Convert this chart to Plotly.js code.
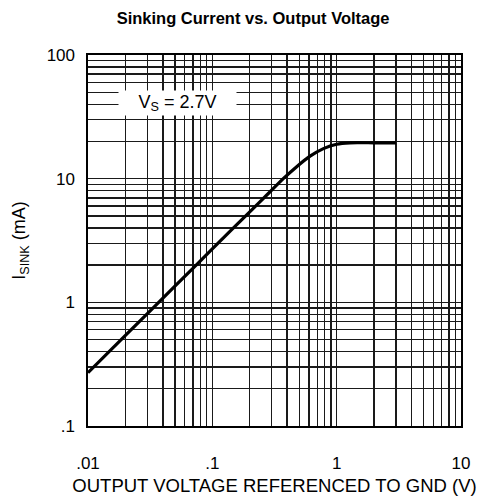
<!DOCTYPE html>
<html>
<head>
<meta charset="utf-8">
<script src="https://cdn.plot.ly/plotly-3.0.1.min.js"></script>
<style>html,body{margin:0;padding:0;background:#fff;}</style>
</head>
<body>
<div id="chart" style="width:484px;height:499px;"></div>
<script>
// Sinking current (mA) vs output voltage (V), Vs = 2.7V
const voltage = [0.01, 0.02, 0.05, 0.1, 0.2, 0.29, 0.372, 0.477, 0.611, 0.782, 1.0, 1.28, 2.0, 3.0];
const current = [0.27, 0.54, 1.35, 2.7, 5.4, 7.8, 10.0, 12.5, 15.2, 17.5, 19.0, 19.5, 19.5, 19.5];

const xDecades = [0.01, 0.1, 1, 10];
const xDecadeLabels = ['.01', '.1', '1', '10'];
const yDecades = [0.1, 1, 10, 100];
const yDecadeLabels = ['.1', '1', '10', '100'];

// Build full log grid (1..9 per decade); only decades carry labels
function logTicks(decades, labels) {
  const vals = [], text = [];
  decades.forEach((d, i) => {
    vals.push(d); text.push(labels[i]);
    if (i < decades.length - 1) {
      for (let k = 2; k <= 9; k++) { vals.push(+(d * k).toPrecision(6)); text.push(''); }
    }
  });
  return {vals, text};
}
const xt = logTicks(xDecades, xDecadeLabels);
const yt = logTicks(yDecades, yDecadeLabels);

const FONT = 'Liberation Sans, Arial, Helvetica, sans-serif';
const GRID = '#1a1a1a';

const trace = {
  x: voltage,
  y: current,
  type: 'scatter',
  mode: 'lines',
  line: {color: '#000', width: 3.2, shape: 'spline', smoothing: 0.6},
  hoverinfo: 'skip'
};

const layout = {
  width: 484,
  height: 499,
  margin: {l: 88, r: 23, t: 55, b: 73},
  paper_bgcolor: '#fff',
  plot_bgcolor: '#fff',
  showlegend: false,
  font: {family: FONT, color: '#000', size: 17},
  title: {
    text: 'Sinking Current vs. Output Voltage',
    font: {family: FONT, size: 16.5, weight: 'bold', color: '#000'},
    xref: 'container', x: 0.523, xanchor: 'center',
    yref: 'container', y: 0.963, yanchor: 'middle'
  },
  xaxis: {
    type: 'log',
    range: [-2, 1],
    tickmode: 'array',
    tickvals: xt.vals,
    ticktext: xt.text,
    ticks: 'outside',
    ticklen: 21,
    tickcolor: 'rgba(0,0,0,0)',
    tickfont: {family: FONT, size: 17},
    showgrid: true,
    gridcolor: GRID,
    gridwidth: 1.4,
    showline: true, mirror: true, linecolor: '#000', linewidth: 1.6,
    zeroline: false,
    automargin: false,
    title: {text: 'OUTPUT VOLTAGE REFERENCED TO GND (V)', font: {family: FONT, size: 18.5}}
  },
  yaxis: {
    type: 'log',
    range: [-1, 2],
    tickmode: 'array',
    tickvals: yt.vals,
    ticktext: yt.text,
    ticks: 'outside',
    ticklen: 8,
    tickcolor: 'rgba(0,0,0,0)',
    tickfont: {family: FONT, size: 17},
    showgrid: true,
    gridcolor: GRID,
    gridwidth: 1.4,
    showline: true, mirror: true, linecolor: '#000', linewidth: 1.6,
    zeroline: false,
    automargin: true,
    title: {text: 'I<sub>SINK</sub> (mA)', font: {family: FONT, size: 18}, standoff: 16}
  },
  annotations: [{
    x: Math.log10(0.052), y: Math.log10(40.7), xref: 'x', yref: 'y',
    text: 'V<sub>S</sub> = 2.7V',
    showarrow: false,
    bgcolor: '#fff',
    width: 115, height: 22,
    font: {family: FONT, size: 18, color: '#000'},
    xanchor: 'center', yanchor: 'middle'
  }]
};

Plotly.newPlot('chart', [trace], layout, {displayModeBar: false, staticPlot: true});
</script>
</body>
</html>
